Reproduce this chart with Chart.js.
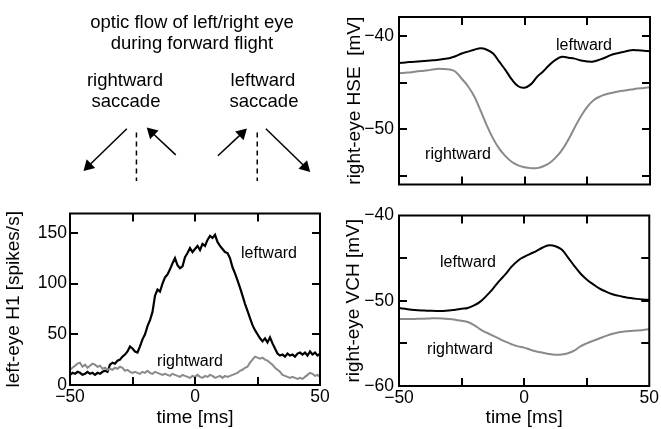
<!DOCTYPE html>
<html>
<head>
<meta charset="utf-8">
<script src="https://cdn.jsdelivr.net/npm/chart.js@4.4.1/dist/chart.umd.min.js"></script>
<style>
  body { margin: 0; background: #fff; }
  #page { position: relative; width: 661px; height: 429px; overflow: hidden; background: #fff;
          font-family: 'Liberation Sans', Arial, sans-serif; color: #000; }
  canvas { position: absolute; }
  .txt { position: absolute; white-space: pre; transform: translate(-50%, -50%); line-height: 1; }
  .head { font-size: 18.5px; }
  .note { font-size: 16px; }
</style>
</head>
<body>
<div id="page">
  <canvas id="diagram" width="340" height="200" style="left:0;top:0"></canvas>
  <canvas id="h1" width="340" height="229" style="left:0;top:200px"></canvas>
  <canvas id="hse" width="321" height="200" style="left:340px;top:0"></canvas>
  <canvas id="vch" width="321" height="229" style="left:340px;top:200px"></canvas>

  <div class="txt head" style="left:192px;top:22px">optic flow of left/right eye</div>
  <div class="txt head" style="left:192px;top:43px">during forward flight</div>
  <div class="txt head" style="left:125px;top:80px">rightward</div>
  <div class="txt head" style="left:126px;top:101px">saccade</div>
  <div class="txt head" style="left:263px;top:80px">leftward</div>
  <div class="txt head" style="left:264px;top:101px">saccade</div>

  <div class="txt note" style="left:269px;top:253px">leftward</div>
  <div class="txt note" style="left:190px;top:361px">rightward</div>
  <div class="txt note" style="left:584px;top:45px">leftward</div>
  <div class="txt note" style="left:458px;top:154px">rightward</div>
  <div class="txt note" style="left:468px;top:262px">leftward</div>
  <div class="txt note" style="left:460px;top:349px">rightward</div>
</div>
<script>
// time axis shared by all panels
const timeLabels = [-50, 0, 50];
const timeTicks = [-25, 0, 25];

// left-eye H1 spike rate, 1 ms bins
const tH1 = [-50,-49,-48,-47,-46,-45,-44,-43,-42,-41,-40,-39,-38,-37,-36,-35,-34,-33,-32,-31,
  -30,-29,-28,-27,-26,-25,-24,-23,-22,-21,-20,-19,-18,-17,-16,-15,-14,-13,-12,-11,
  -10,-9,-8,-7,-6,-5,-4,-3,-2,-1,0,1,2,3,4,5,6,7,8,9,
  10,11,12,13,14,15,16,17,18,19,20,21,22,23,24,25,26,27,28,29,
  30,31,32,33,34,35,36,37,38,39,40,41,42,43,44,45,46,47,48,49,50];
const h1Leftward = [10,12,11,13,12,10,11,13,11,12,10,12,11,13,14,13,20,22,21,24,
  25,28,30,33,38,36,33,32,38,45,50,58,64,72,88,94,92,100,106,109,
  114,120,125,118,115,117,126,130,135,131,134,137,133,139,137,143,147,145,148,141,
  137,134,131,130,125,116,110,103,96,88,80,73,66,59,54,50,46,43,46,42,
  47,41,36,31,29,30,28,31,29,30,28,31,32,30,32,29,33,30,32,29,31];
const h1Rightward = [15,17,19,21,22,18,20,17,19,21,20,18,19,16,17,15,16,15,17,16,
  18,17,14,15,13,12,13,12,11,13,12,14,12,11,13,12,11,10,11,10,
  9,11,10,9,8,10,9,8,7,9,8,10,8,7,9,8,10,9,7,8,
  9,7,9,8,9,10,11,12,14,15,17,18,22,25,28,27,26,27,25,24,
  22,20,17,15,13,10,9,8,7,8,7,6,7,6,8,10,12,11,9,10,8];
const h1Labels = [0, 50, 100, 150];
const h1Ticks = [50, 100, 150];

// right-eye membrane potentials, 2.5 ms steps
const tSlow = [-50,-47.5,-45,-42.5,-40,-37.5,-35,-32.5,-30,-27.5,-25,-22.5,-20,-17.5,-15,-12.5,
  -10,-7.5,-5,-2.5,0,2.5,5,7.5,10,12.5,15,17.5,20,22.5,25,27.5,30,32.5,35,37.5,40,42.5,45,47.5,50];
const hseLeftward = [-42.93,-42.85,-42.8,-42.75,-42.7,-42.65,-42.6,-42.5,-42.4,-42.2,-41.9,-41.7,-41.5,-41.35,-41.5,-41.9,
  -42.8,-43.7,-44.7,-45.4,-45.55,-45.2,-44.4,-43.8,-43.1,-42.55,-42.25,-42.35,-42.45,-42.65,-42.75,-42.75,-42.55,-42.3,-42.0,-41.85,-41.7,-41.55,-41.55,-41.6,-41.65];
const hseRightward = [-44.0,-43.95,-43.9,-43.8,-43.75,-43.65,-43.55,-43.55,-43.6,-43.85,-44.6,-45.4,-46.5,-48.0,-49.6,-51.0,
  -52.1,-52.9,-53.5,-53.85,-54.05,-54.15,-54.15,-53.95,-53.6,-53.0,-52.2,-51.1,-49.8,-48.6,-47.6,-46.9,-46.5,-46.25,-46.1,-45.95,-45.85,-45.75,-45.65,-45.6,-45.5];
const hseLabels = [-40, -50];
const hseTicks = [-40, -45, -50, -55];

const vchLeftward = [-50.85,-50.95,-51.05,-51.12,-51.15,-51.18,-51.2,-51.2,-51.15,-51.05,-50.95,-50.85,-50.55,-50.1,-49.4,-48.6,
  -47.7,-46.9,-46.0,-45.3,-44.85,-44.5,-44.15,-43.75,-43.5,-43.6,-44.0,-44.9,-45.9,-46.8,-47.5,-48.05,-48.55,-48.9,-49.2,-49.4,-49.55,-49.68,-49.78,-49.85,-49.9];
const vchRightward = [-52.15,-52.15,-52.15,-52.12,-52.1,-52.07,-52.05,-52.08,-52.15,-52.24,-52.35,-52.5,-52.85,-53.35,-53.75,-54.1,
  -54.45,-54.8,-55.1,-55.35,-55.5,-55.75,-55.95,-56.1,-56.25,-56.33,-56.3,-56.15,-55.85,-55.35,-55.0,-54.7,-54.43,-54.15,-53.9,-53.72,-53.62,-53.55,-53.5,-53.42,-53.35];
const vchLabels = [-40, -50, -60];
const vchTicks = [-45, -50, -55];

// schematic of the optic flow: arrows [x1, y1, tipX, tipY] and dashed midlines
const flowArrows = [[125, 131, 80, 176], [176, 159, 146, 130], [220, 160, 250, 131], [270, 131, 316, 177]];
const midlines = [[135, 135, 135, 187], [261, 135, 261, 187]];

Chart.defaults.font.family = "'Liberation Sans', Arial, sans-serif";
Chart.defaults.color = '#000';

const BLACK = '#000';
const GREY = '#8a8a8a';

// frame round the plot area with inward tick marks on all four sides
const frameTicks = {
  id: 'frameTicks',
  afterDatasetsDraw(chart, args, opts) {
    const { ctx, chartArea: a, scales } = chart;
    const len = 8;
    ctx.save();
    ctx.strokeStyle = '#000';
    ctx.lineWidth = 2;
    ctx.beginPath();
    (opts.x || []).forEach(v => {
      const px = Math.round(scales.x.getPixelForValue(v));
      ctx.moveTo(px, a.top); ctx.lineTo(px, a.top + len);
      ctx.moveTo(px, a.bottom); ctx.lineTo(px, a.bottom - len);
    });
    (opts.y || []).forEach(v => {
      const py = Math.round(scales.y.getPixelForValue(v));
      ctx.moveTo(a.left, py); ctx.lineTo(a.left + len, py);
      ctx.moveTo(a.right, py); ctx.lineTo(a.right - len, py);
    });
    ctx.stroke();
    ctx.strokeRect(a.left, a.top, a.right - a.left, a.bottom - a.top);
    ctx.restore();
  }
};

const fmt = v => (v < 0 ? '\u2212' + Math.abs(v) : String(v));

function makePanel(id, cfg) {
  return new Chart(document.getElementById(id), {
    type: 'line',
    data: {
      datasets: cfg.series.map(s => ({
        data: s.t.map((t, i) => ({ x: t, y: s.v[i] })),
        borderColor: s.color,
        borderWidth: s.width,
        pointRadius: 0,
        tension: s.tension,
        fill: false
      }))
    },
    options: {
      responsive: false,
      animation: false,
      events: [],
      layout: { padding: cfg.padding },
      plugins: {
        legend: { display: false },
        tooltip: { enabled: false },
        frameTicks: { x: timeTicks, y: cfg.yTicks }
      },
      scales: {
        x: {
          type: 'linear', min: -50, max: 50,
          display: cfg.xHeight > 0,
          grid: { display: false, drawTicks: false }, border: { display: false },
          afterBuildTicks: s => { s.ticks = timeLabels.map(v => ({ value: v })); },
          afterFit: s => { s.height = cfg.xHeight; },
          ticks: { padding: 2, autoSkip: false, maxRotation: 0, font: { size: 17.5 }, callback: fmt },
          title: { display: true, text: 'time [ms]', font: { size: 19 }, padding: { top: 0, bottom: 0 } }
        },
        y: {
          type: 'linear', min: cfg.yMin, max: cfg.yMax,
          grid: { display: false, drawTicks: false }, border: { display: false },
          afterBuildTicks: s => { s.ticks = cfg.yLabels.map(v => ({ value: v })); },
          afterFit: s => { s.width = cfg.yWidth; },
          ticks: { padding: cfg.labelPad, autoSkip: false, font: { size: 17.5 }, callback: fmt },
          title: { display: true, text: cfg.yTitle, font: { size: 19 }, padding: { top: cfg.titlePad, bottom: 0 } }
        }
      }
    },
    plugins: [frameTicks]
  });
}

makePanel('h1', {
  padding: { left: 0, right: 20, top: 10, bottom: 0 },
  xHeight: 44, yWidth: 70, titlePad: 2, labelPad: 3,
  yMin: 0, yMax: 169, yLabels: h1Labels, yTicks: h1Ticks,
  yTitle: 'left-eye H1 [spikes/s]',
  series: [
    { t: tH1, v: h1Rightward, color: GREY, width: 2, tension: 0 },
    { t: tH1, v: h1Leftward, color: BLACK, width: 2.2, tension: 0 }
  ]
});

makePanel('hse', {
  padding: { left: 0, right: 11, top: 17, bottom: 7 },
  xHeight: 0, yWidth: 59, titlePad: 3, labelPad: 5,
  yMin: -55.9, yMax: -38, yLabels: hseLabels, yTicks: hseTicks,
  yTitle: 'right-eye HSE  [mV]',
  series: [
    { t: tSlow, v: hseRightward, color: GREY, width: 2, tension: 0.4 },
    { t: tSlow, v: hseLeftward, color: BLACK, width: 2, tension: 0.4 }
  ]
});

makePanel('vch', {
  padding: { left: 0, right: 11, top: 10, bottom: 0 },
  xHeight: 43, yWidth: 59, titlePad: 2, labelPad: 5,
  yMin: -60, yMax: -40, yLabels: vchLabels, yTicks: vchTicks,
  yTitle: 'right-eye VCH [mV]',
  series: [
    { t: tSlow, v: vchRightward, color: GREY, width: 2, tension: 0.4 },
    { t: tSlow, v: vchLeftward, color: BLACK, width: 2, tension: 0.4 }
  ]
});

// schematic drawn on a hidden pixel-like scale
const headR = 7;
const arrowSets = flowArrows.map(a => {
  const dx = a[2] - a[0], dy = a[3] - a[1];
  const d = Math.hypot(dx, dy);
  const hx = a[2] - headR * dx / d, hy = a[3] - headR * dy / d;
  const rot = Math.atan2(dy, dx) * 180 / Math.PI + 90;
  return {
    data: [{ x: a[0], y: a[1] }, { x: hx, y: hy }],
    borderColor: '#000', borderWidth: 1.5,
    pointRadius: [0, headR], pointStyle: 'triangle', pointRotation: [0, rot],
    pointBackgroundColor: '#000', pointBorderWidth: 0, clip: false
  };
});
const midSets = midlines.map(m => ({
  data: [{ x: m[0], y: m[1] }, { x: m[2], y: m[3] }],
  borderColor: '#000', borderWidth: 1.5, borderDash: [5, 4], pointRadius: 0, clip: false
}));

new Chart(document.getElementById('diagram'), {
  type: 'line',
  data: { datasets: arrowSets.concat(midSets) },
  options: {
    responsive: false, animation: false, events: [],
    layout: { padding: 0 },
    plugins: { legend: { display: false }, tooltip: { enabled: false } },
    scales: {
      x: { type: 'linear', min: 0, max: 340, display: false },
      y: { type: 'linear', min: 0, max: 200, reverse: true, display: false }
    }
  }
});
</script>
</body>
</html>
